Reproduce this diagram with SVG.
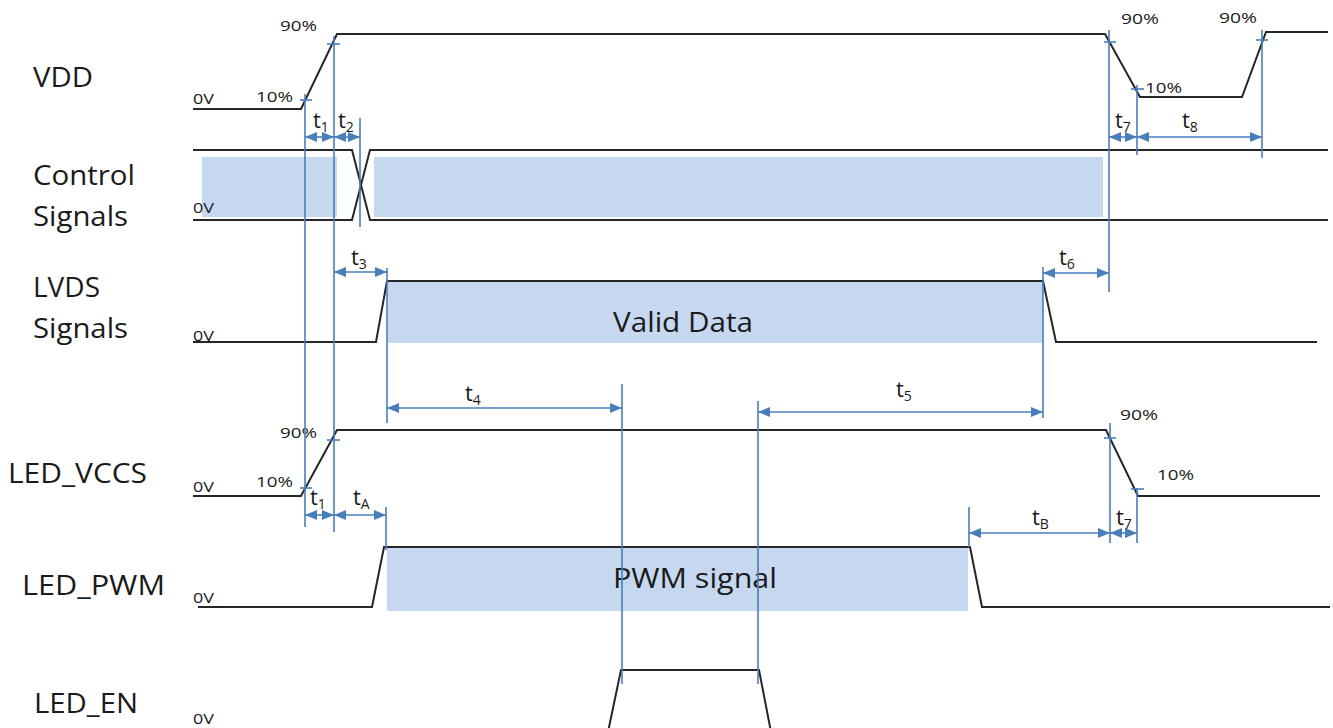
<svg xmlns="http://www.w3.org/2000/svg" width="1333" height="728" viewBox="0 0 1333 728">
<style>
.bg{fill:#ffffff}
.sig{fill:none;stroke:#262626;stroke-width:2}
.data{fill:#c6d8f0;stroke:none}
.guide{fill:none;stroke:#4a7ebb;stroke-width:1.6}
.dim{fill:none;stroke:#4a7ebb;stroke-width:1.6;marker-start:url(#ah);marker-end:url(#ah)}
.lbl{font-family:"Open Sans","Liberation Sans",sans-serif;font-size:27px;fill:#1a1a1a}
.sm{font-family:"Open Sans","Liberation Sans",sans-serif;font-size:15px;fill:#1a1a1a}
.t{font-family:"Open Sans","Liberation Sans",sans-serif;font-size:22px;fill:#1a1a1a}
.sub{font-size:14px}
</style>
<defs>
<marker id="ah" viewBox="0 0 12 10" refX="12" refY="5" markerWidth="12" markerHeight="10" markerUnits="userSpaceOnUse" orient="auto-start-reverse">
<path d="M0,0 L12,5 L0,10 z" fill="#4a7ebb"/>
</marker>
</defs>
<rect class="bg" x="0" y="0" width="1333" height="728"/>

<g id="vdd">
<text class="lbl" x="33" y="87" textLength="60" lengthAdjust="spacingAndGlyphs">VDD</text>
<polyline class="sig" points="193,109 301,109 337,34 1105,34 1140,97 1242,97 1266,32 1328,32"/>
<text class="sm" x="193" y="104" textLength="21" lengthAdjust="spacingAndGlyphs">0V</text>
<text class="sm" x="256" y="102" textLength="37" lengthAdjust="spacingAndGlyphs">10%</text>
<text class="sm" x="280" y="31" textLength="37" lengthAdjust="spacingAndGlyphs">90%</text>
<text class="sm" x="1121" y="24" textLength="38" lengthAdjust="spacingAndGlyphs">90%</text>
<text class="sm" x="1219" y="23" textLength="38" lengthAdjust="spacingAndGlyphs">90%</text>
<text class="sm" x="1145" y="93" textLength="37" lengthAdjust="spacingAndGlyphs">10%</text>
</g>

<g id="control">
<text class="lbl" x="33" y="185" textLength="102" lengthAdjust="spacingAndGlyphs">Control</text>
<text class="lbl" x="33" y="226" textLength="95" lengthAdjust="spacingAndGlyphs">Signals</text>
<rect class="data" x="202" y="157" width="135" height="60"/>
<rect class="data" x="374" y="157" width="729" height="60"/>
<polyline class="sig" points="193,150 352,150 370,220 1328,220"/>
<polyline class="sig" points="193,220 352,220 370,150 1328,150"/>
<text class="sm" x="193" y="213" textLength="21" lengthAdjust="spacingAndGlyphs">0V</text>
</g>

<g id="lvds">
<text class="lbl" x="33" y="297" textLength="67" lengthAdjust="spacingAndGlyphs">LVDS</text>
<text class="lbl" x="33" y="338" textLength="95" lengthAdjust="spacingAndGlyphs">Signals</text>
<rect class="data" x="388" y="282" width="655" height="61"/>
<polyline class="sig" points="193,342 376,342 387,281 1043,281 1056,342 1317,342"/>
<text class="sm" x="193" y="341" textLength="21" lengthAdjust="spacingAndGlyphs">0V</text>
<text class="lbl" x="613" y="332" textLength="140" lengthAdjust="spacingAndGlyphs">Valid Data</text>
</g>

<g id="led_vccs">
<text class="lbl" x="8" y="483" textLength="139" lengthAdjust="spacingAndGlyphs">LED_VCCS</text>
<polyline class="sig" points="193,496 301,496 337,430 1106,430 1138,496 1320,496"/>
<text class="sm" x="193" y="492" textLength="21" lengthAdjust="spacingAndGlyphs">0V</text>
<text class="sm" x="256" y="487" textLength="37" lengthAdjust="spacingAndGlyphs">10%</text>
<text class="sm" x="280" y="438" textLength="37" lengthAdjust="spacingAndGlyphs">90%</text>
<text class="sm" x="1120" y="420" textLength="38" lengthAdjust="spacingAndGlyphs">90%</text>
<text class="sm" x="1157" y="480" textLength="37" lengthAdjust="spacingAndGlyphs">10%</text>
</g>

<g id="led_pwm">
<text class="lbl" x="22" y="595" textLength="143" lengthAdjust="spacingAndGlyphs">LED_PWM</text>
<rect class="data" x="387" y="548" width="581" height="63"/>
<polyline class="sig" points="198,607 372,607 384,547 970,547 982,607 1330,607"/>
<text class="sm" x="193" y="603" textLength="21" lengthAdjust="spacingAndGlyphs">0V</text>
<text class="lbl" x="613" y="588" textLength="164" lengthAdjust="spacingAndGlyphs">PWM signal</text>
</g>

<g id="led_en">
<text class="lbl" x="34" y="713" textLength="104" lengthAdjust="spacingAndGlyphs">LED_EN</text>
<polyline class="sig" points="608,732 621,670 759,670 771,732"/>
<text class="sm" x="193" y="724" textLength="21" lengthAdjust="spacingAndGlyphs">0V</text>
</g>

<g id="connectors">
<!-- guide lines -->
<line class="guide" x1="305" y1="94" x2="305" y2="527"/>
<line class="guide" x1="334" y1="36" x2="334" y2="532"/>
<line class="guide" x1="360" y1="118" x2="360" y2="227"/>
<line class="guide" x1="387" y1="268" x2="387" y2="423"/>
<line class="guide" x1="1043" y1="267" x2="1043" y2="418"/>
<line class="guide" x1="1109" y1="30" x2="1109" y2="292"/>
<line class="guide" x1="1137" y1="85" x2="1137" y2="155"/>
<line class="guide" x1="1262" y1="30" x2="1262" y2="158"/>
<line class="guide" x1="622" y1="384" x2="622" y2="684"/>
<line class="guide" x1="758" y1="401" x2="758" y2="684"/>
<line class="guide" x1="386" y1="507" x2="386" y2="550"/>
<line class="guide" x1="969" y1="507" x2="969" y2="547"/>
<line class="guide" x1="1110" y1="423" x2="1110" y2="543"/>
<line class="guide" x1="1137" y1="488" x2="1137" y2="543"/>
<!-- ticks -->
<line class="guide" x1="300" y1="100" x2="312" y2="100"/>
<line class="guide" x1="327" y1="44" x2="340" y2="44"/>
<line class="guide" x1="1104" y1="42" x2="1116" y2="42"/>
<line class="guide" x1="1131" y1="89" x2="1144" y2="89"/>
<line class="guide" x1="1256" y1="40" x2="1268" y2="40"/>
<line class="guide" x1="300" y1="488" x2="312" y2="488"/>
<line class="guide" x1="327" y1="440" x2="340" y2="440"/>
<line class="guide" x1="1104" y1="438" x2="1116" y2="438"/>
<line class="guide" x1="1131" y1="489" x2="1144" y2="489"/>
<!-- dimension arrows -->
<line class="dim" x1="305" y1="137" x2="334" y2="137"/>
<line class="dim" x1="334" y1="137" x2="360" y2="137"/>
<line class="dim" x1="1109" y1="137" x2="1137" y2="137"/>
<line class="dim" x1="1137" y1="137" x2="1262" y2="137"/>
<line class="dim" x1="334" y1="272" x2="387" y2="272"/>
<line class="dim" x1="1043" y1="273" x2="1109" y2="273"/>
<line class="dim" x1="387" y1="408" x2="622" y2="408"/>
<line class="dim" x1="758" y1="412" x2="1043" y2="412"/>
<line class="dim" x1="305" y1="515" x2="334" y2="515"/>
<line class="dim" x1="334" y1="515" x2="386" y2="515"/>
<line class="dim" x1="969" y1="533" x2="1110" y2="533"/>
<line class="dim" x1="1110" y1="533" x2="1137" y2="533"/>
<!-- labels -->
<text class="t" x="313" y="128">t<tspan class="sub" dy="4">1</tspan></text>
<text class="t" x="338" y="128">t<tspan class="sub" dy="4">2</tspan></text>
<text class="t" x="1115" y="128">t<tspan class="sub" dy="4">7</tspan></text>
<text class="t" x="1182" y="128">t<tspan class="sub" dy="4">8</tspan></text>
<text class="t" x="351" y="265">t<tspan class="sub" dy="4">3</tspan></text>
<text class="t" x="1059" y="265">t<tspan class="sub" dy="4">6</tspan></text>
<text class="t" x="465" y="401">t<tspan class="sub" dy="4">4</tspan></text>
<text class="t" x="896" y="397">t<tspan class="sub" dy="4">5</tspan></text>
<text class="t" x="310" y="505">t<tspan class="sub" dy="4">1</tspan></text>
<text class="t" x="353" y="505">t<tspan class="sub" dy="4">A</tspan></text>
<text class="t" x="1032" y="525">t<tspan class="sub" dy="4">B</tspan></text>
<text class="t" x="1116" y="525">t<tspan class="sub" dy="4">7</tspan></text>
</g>
</svg>
